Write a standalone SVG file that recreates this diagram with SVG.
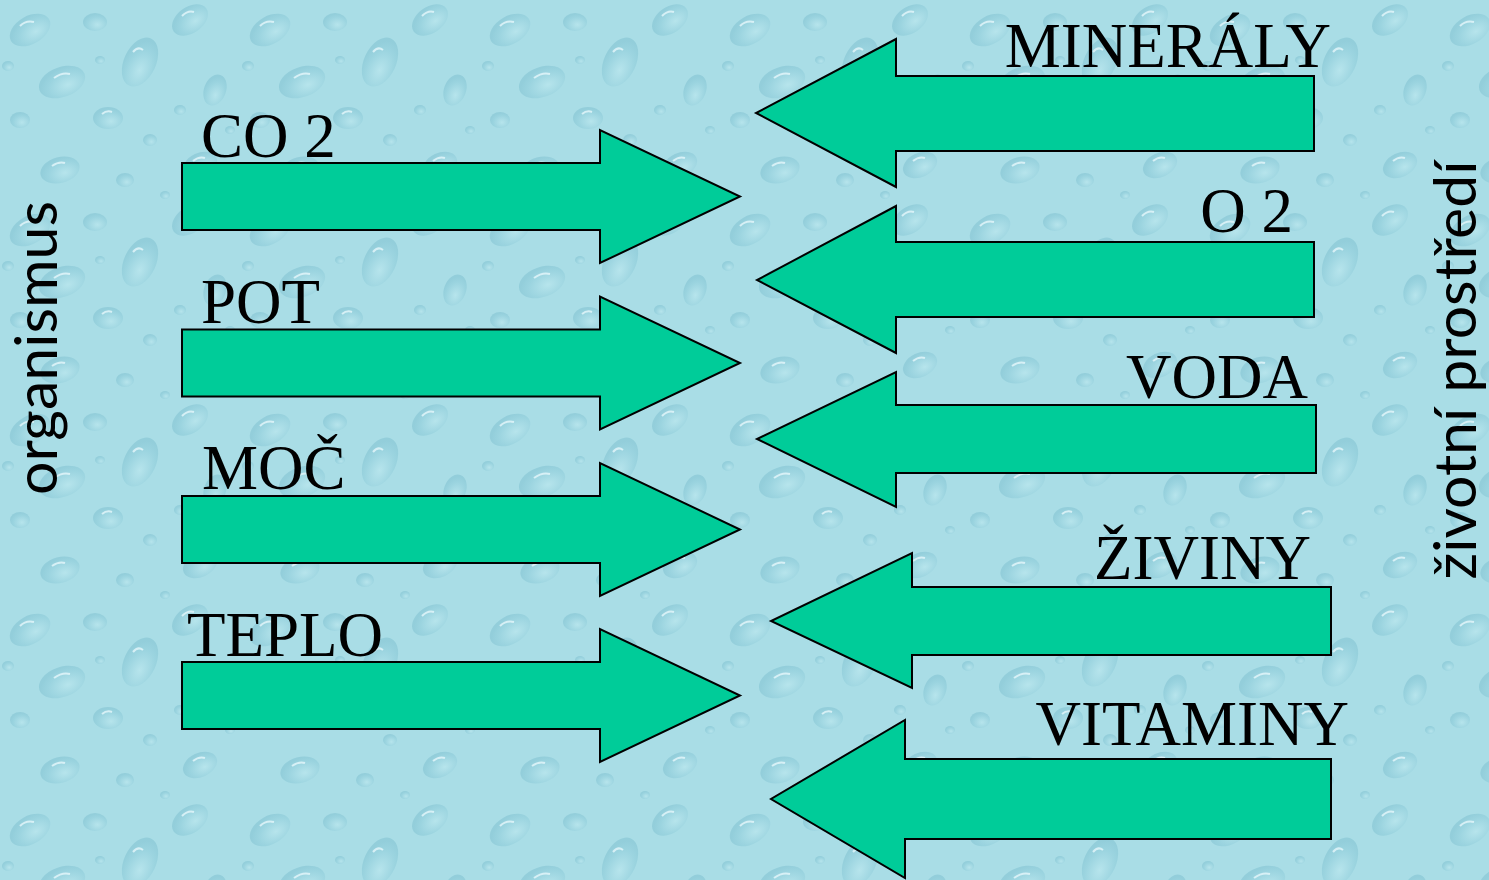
<svg xmlns="http://www.w3.org/2000/svg" width="1489" height="880" viewBox="0 0 1489 880">
<defs>
<style>
.arrow{fill:#00CC99;stroke:#000;stroke-width:2;stroke-linejoin:miter}
.lbl{font-family:"Liberation Serif","Times New Roman",serif;font-size:63px;fill:#000}
.side{font-family:Lato,"Open Sans",sans-serif;font-size:59px;fill:#000}
.d{fill:url(#drop);opacity:0.5}
.h{stroke:#f2fdff;stroke-width:2;fill:none;opacity:0.7}
</style>
<radialGradient id="drop" cx="0.6" cy="0.65" r="0.6">
<stop offset="0" stop-color="#c4ecf2"/>
<stop offset="0.7" stop-color="#8dcbd9"/>
<stop offset="1" stop-color="#7dbfcf"/>
</radialGradient>
<pattern id="water" x="0" y="0" width="240" height="200" patternUnits="userSpaceOnUse">
<rect width="240" height="200" fill="#a9dde6"/>
<ellipse class="d" cx="30" cy="30" rx="22" ry="14" transform="rotate(-30 30 30)"/>
<ellipse class="d" cx="95" cy="22" rx="12" ry="9"/>
<ellipse class="d" cx="140" cy="62" rx="16" ry="26" transform="rotate(25 140 62)"/>
<ellipse class="d" cx="62" cy="82" rx="24" ry="15" transform="rotate(-20 62 82)"/>
<ellipse class="d" cx="20" cy="120" rx="10" ry="8"/>
<ellipse class="d" cx="108" cy="118" rx="15" ry="11"/>
<ellipse class="d" cx="150" cy="140" rx="7" ry="6"/>
<ellipse class="d" cx="8" cy="66" rx="6" ry="5"/>
<ellipse class="d" cx="190" cy="20" rx="20" ry="13" transform="rotate(-35 190 20)"/>
<ellipse class="d" cx="215" cy="90" rx="11" ry="16" transform="rotate(20 215 90)"/>
<ellipse class="d" cx="180" cy="110" rx="6" ry="5"/>
<ellipse class="d" cx="200" cy="165" rx="18" ry="12" transform="rotate(-25 200 165)"/>
<ellipse class="d" cx="60" cy="170" rx="20" ry="13" transform="rotate(-15 60 170)"/>
<ellipse class="d" cx="125" cy="180" rx="9" ry="7"/>
<ellipse class="d" cx="230" cy="130" rx="5" ry="4"/>
<ellipse class="d" cx="100" cy="60" rx="5" ry="4"/>
<ellipse class="d" cx="165" cy="195" rx="5" ry="4"/>
<path class="h" d="M20 26 q6 -6 14 -4"/>
<path class="h" d="M54 78 q8 -6 16 -4"/>
<path class="h" d="M133 52 q5 -6 10 -2"/>
<path class="h" d="M102 114 q5 -4 10 -2"/>
<path class="h" d="M182 16 q6 -6 12 -4"/>
<path class="h" d="M52 166 q7 -5 13 -3"/>
<path class="h" d="M193 161 q6 -5 12 -3"/>
</pattern>
</defs>
<rect id="background" width="1489" height="880" fill="url(#water)"/>

<g id="connectors">
<g id="arrow-co2"><polygon class="arrow" points="182,163 600,163 600,130 740,196.5 600,263 600,230 182,230"/></g>
<g id="arrow-pot" transform="translate(0,166.5)"><polygon class="arrow" points="182,163 600,163 600,130 740,196.5 600,263 600,230 182,230"/></g>
<g id="arrow-moc" transform="translate(0,333)"><polygon class="arrow" points="182,163 600,163 600,130 740,196.5 600,263 600,230 182,230"/></g>
<g id="arrow-teplo" transform="translate(0,499)"><polygon class="arrow" points="182,163 600,163 600,130 740,196.5 600,263 600,230 182,230"/></g>
<g id="arrow-mineraly"><polygon class="arrow" points="1314,76 896,76 896,39 756,113 896,187 896,151 1314,151"/></g>
<g id="arrow-o2"><polygon class="arrow" points="1314,242 896,242 896,206 757,280 896,353 896,317 1314,317"/></g>
<g id="arrow-voda"><polygon class="arrow" points="1316,405 896,405 896,372 757,439 896,507 896,473 1316,473"/></g>
<g id="arrow-ziviny"><polygon class="arrow" points="1331,587 912,587 912,553 771,621 912,688 912,655 1331,655"/></g>
<g id="arrow-vitaminy"><polygon class="arrow" points="1331,759 905,759 905,720 771,799 905,878 905,839 1331,839"/></g>
</g>

<g id="node-co2"><text class="lbl" x="201" y="157">CO 2</text></g>
<g id="node-pot"><text class="lbl" x="201" y="323">POT</text></g>
<g id="node-moc"><text class="lbl" x="202" y="489">MOČ</text></g>
<g id="node-teplo"><text class="lbl" x="187" y="656">TEPLO</text></g>
<g id="node-mineraly"><text class="lbl" x="1331" y="67" text-anchor="end">MINERÁLY</text></g>
<g id="node-o2"><text class="lbl" x="1293" y="232" text-anchor="end">O 2</text></g>
<g id="node-voda"><text class="lbl" x="1308" y="398" text-anchor="end">VODA</text></g>
<g id="node-ziviny"><text class="lbl" x="1311" y="579" text-anchor="end">ŽIVINY</text></g>
<g id="node-vitaminy"><text class="lbl" x="1349" y="745" text-anchor="end">VITAMINY</text></g>

<g id="node-organismus"><text class="side" transform="translate(57,348) rotate(-90)" text-anchor="middle">organismus</text></g>
<g id="node-zivotni-prostredi"><text class="side" transform="translate(1476,370) rotate(-90)" text-anchor="middle">životní prostředí</text></g>
</svg>
